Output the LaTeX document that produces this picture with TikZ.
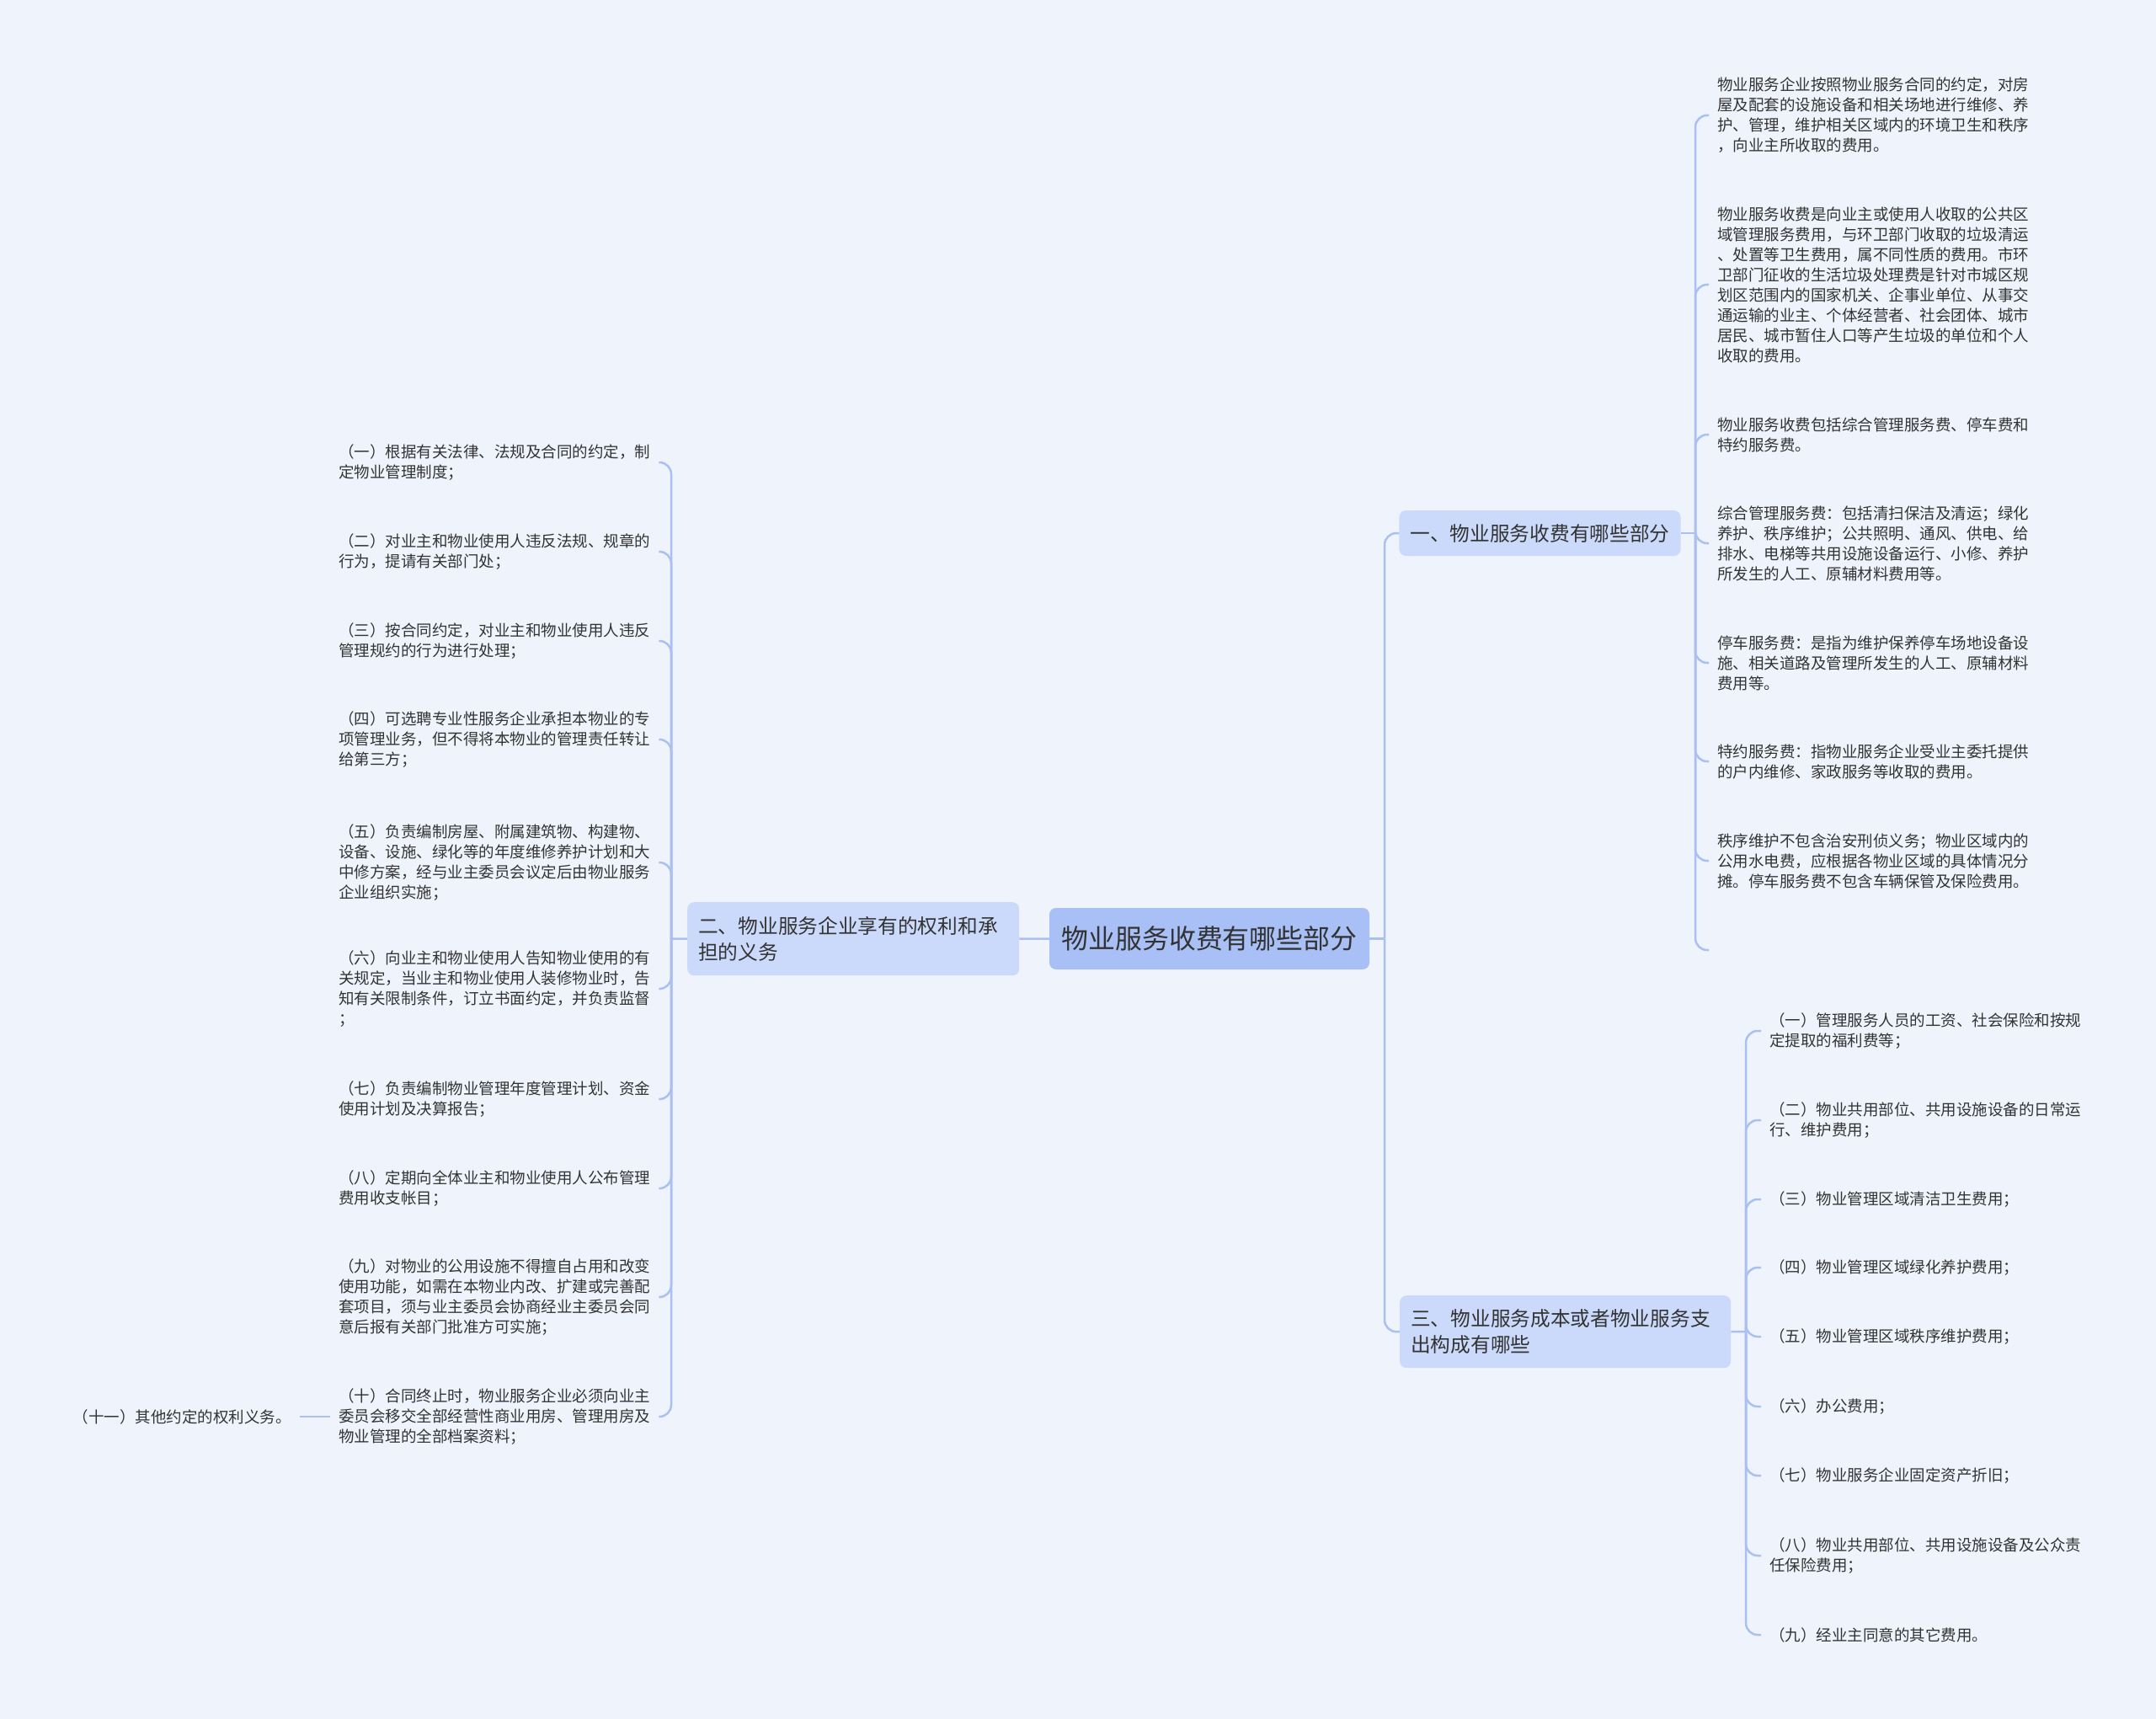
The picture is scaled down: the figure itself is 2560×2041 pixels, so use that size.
\documentclass[tikz,border=0pt]{standalone}
\usepackage{fontspec}
\setmainfont{Noto Sans CJK SC}
\usetikzlibrary{positioning}

\definecolor{bgcol}{HTML}{EEF3FC}
\definecolor{linecol}{HTML}{A9C0F0}
\definecolor{subcol}{HTML}{CBDAFA}
\definecolor{maincol}{HTML}{A8C0F6}
\definecolor{txtcol}{HTML}{333333}

\tikzset{
  mainbox/.style={fill=maincol, rounded corners=8pt, minimum width=380pt, minimum height=73pt,
    inner sep=0pt, text=txtcol, font=\fontsize{31.9}{38}\selectfont},
  subbox/.style={fill=subcol, rounded corners=8pt, inner xsep=13pt, inner ysep=0pt,
    align=left, text=txtcol, font=\fontsize{23.7}{31}\selectfont},
  leafbox/.style={anchor=west, inner sep=0pt, align=left, text=txtcol,
    font=\fontsize{18.5}{24}\selectfont},
  link/.style={draw=linecol, line width=2.5pt, rounded corners=14pt},
}

\begin{document}
\begin{tikzpicture}[x=1pt,y=-1pt]
  \fill[bgcol] (0,0) rectangle (2560,2041);
  \useasboundingbox (0,0) rectangle (2560,2041);

  % centre and main branches
  \node[mainbox] (c) at (1436,1114.5) {物业服务收费有哪些部分};
  \node[subbox, minimum width=333pt, minimum height=54pt] (b1) at (1828.5,633) {一、物业服务收费有哪些部分};
  \node[subbox, anchor=north west, text width=368pt, minimum height=87pt] (b2) at (816,1071) {二、物业服务企业享有的权利和承\\担的义务};
  \node[subbox, anchor=north west, text width=367pt, minimum height=86pt] (b3) at (1662,1538) {三、物业服务成本或者物业服务支\\出构成有哪些};

  \coordinate (t) at (1644,1114.5);
  \coordinate (j1) at (2013,633);
  \coordinate (j2) at (797,1114.5);
  \coordinate (j3) at (2073,1581);

  % branch 1 leaves
  \node[leafbox] (r1) at (2039,137) {物业服务企业按照物业服务合同的约定，对房\\屋及配套的设施设备和相关场地进行维修、养\\护、管理，维护相关区域内的环境卫生和秩序\\，向业主所收取的费用。};
  \node[leafbox] (r2) at (2039,338) {物业服务收费是向业主或使用人收取的公共区\\域管理服务费用，与环卫部门收取的垃圾清运\\、处置等卫生费用，属不同性质的费用。市环\\卫部门征收的生活垃圾处理费是针对市城区规\\划区范围内的国家机关、企事业单位、从事交\\通运输的业主、个体经营者、社会团体、城市\\居民、城市暂住人口等产生垃圾的单位和个人\\收取的费用。};
  \node[leafbox] (r3) at (2039,516) {物业服务收费包括综合管理服务费、停车费和\\特约服务费。};
  \node[leafbox] (r4) at (2039,645) {综合管理服务费：包括清扫保洁及清运；绿化\\养护、秩序维护；公共照明、通风、供电、给\\排水、电梯等共用设施设备运行、小修、养护\\所发生的人工、原辅材料费用等。};
  \node[leafbox] (r5) at (2039,787) {停车服务费：是指为维护保养停车场地设备设\\施、相关道路及管理所发生的人工、原辅材料\\费用等。};
  \node[leafbox] (r6) at (2039,904) {特约服务费：指物业服务企业受业主委托提供\\的户内维修、家政服务等收取的费用。};
  \node[leafbox] (r7) at (2039,1022) {秩序维护不包含治安刑侦义务；物业区域内的\\公用水电费，应根据各物业区域的具体情况分\\摊。停车服务费不包含车辆保管及保险费用。};
  \coordinate (r8) at (2029,1128);

  % branch 2 leaves
  \node[leafbox] (l1) at (402,549) {（一）根据有关法律、法规及合同的约定，制\\定物业管理制度；};
  \node[leafbox] (l2) at (402,655) {（二）对业主和物业使用人违反法规、规章的\\行为，提请有关部门处；};
  \node[leafbox] (l3) at (402,761) {（三）按合同约定，对业主和物业使用人违反\\管理规约的行为进行处理；};
  \node[leafbox] (l4) at (402,878) {（四）可选聘专业性服务企业承担本物业的专\\项管理业务，但不得将本物业的管理责任转让\\给第三方；};
  \node[leafbox] (l5) at (402,1024) {（五）负责编制房屋、附属建筑物、构建物、\\设备、设施、绿化等的年度维修养护计划和大\\中修方案，经与业主委员会议定后由物业服务\\企业组织实施；};
  \node[leafbox] (l6) at (402,1174) {（六）向业主和物业使用人告知物业使用的有\\关规定，当业主和物业使用人装修物业时，告\\知有关限制条件，订立书面约定，并负责监督\\；};
  \node[leafbox] (l7) at (402,1305) {（七）负责编制物业管理年度管理计划、资金\\使用计划及决算报告；};
  \node[leafbox] (l8) at (402,1411) {（八）定期向全体业主和物业使用人公布管理\\费用收支帐目；};
  \node[leafbox] (l9) at (402,1540) {（九）对物业的公用设施不得擅自占用和改变\\使用功能，如需在本物业内改、扩建或完善配\\套项目，须与业主委员会协商经业主委员会同\\意后报有关部门批准方可实施；};
  \node[leafbox] (l10) at (402,1682) {（十）合同终止时，物业服务企业必须向业主\\委员会移交全部经营性商业用房、管理用房及\\物业管理的全部档案资料；};
  \node[leafbox, anchor=east, left=56pt of l10] (l11) {（十一）其他约定的权利义务。};

  % branch 3 leaves
  \node[leafbox] (s1) at (2101,1224) {（一）管理服务人员的工资、社会保险和按规\\定提取的福利费等；};
  \node[leafbox] (s2) at (2101,1330) {（二）物业共用部位、共用设施设备的日常运\\行、维护费用；};
  \node[leafbox] (s3) at (2101,1424) {（三）物业管理区域清洁卫生费用；};
  \node[leafbox] (s4) at (2101,1505) {（四）物业管理区域绿化养护费用；};
  \node[leafbox] (s5) at (2101,1587) {（五）物业管理区域秩序维护费用；};
  \node[leafbox] (s6) at (2101,1670) {（六）办公费用；};
  \node[leafbox] (s7) at (2101,1752) {（七）物业服务企业固定资产折旧；};
  \node[leafbox] (s8) at (2101,1847) {（八）物业共用部位、共用设施设备及公众责\\任保险费用；};
  \node[leafbox] (s9) at (2101,1941) {（九）经业主同意的其它费用。};

  % connectors
  \draw[link] (c.west) -- (b2.east);
  \draw[link] (c.east) -- (t);
  \draw[link] (t) |- (b1.west);
  \draw[link] (t) |- (b3.west);

  \draw[link] (b1.east) -- (j1);
  \foreach \n in {1,...,7}
    \draw[link] (j1) |- ([xshift=-10pt]r\n.west);
  \draw[link] (j1) |- (r8);

  \draw[link] (b2.west) -- (j2);
  \foreach \n in {1,...,10}
    \draw[link] (j2) |- ([xshift=10pt]l\n.east);
  \draw[link] ([xshift=-10pt]l10.west) -- ([xshift=10pt]l11.east);

  \draw[link] (b3.east) -- (j3);
  \foreach \n in {1,...,9}
    \draw[link] (j3) |- ([xshift=-10pt]s\n.west);
\end{tikzpicture}
\end{document}
